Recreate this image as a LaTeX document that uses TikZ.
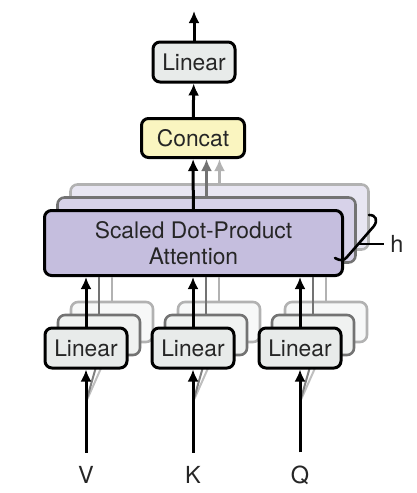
\documentclass[tikz,border=0pt]{standalone}
\usepackage{fontspec}
\setmainfont{TeX Gyre Heros}
\usetikzlibrary{arrows.meta, positioning, calc}

\definecolor{linfill}{RGB}{232,235,234}
\definecolor{linfilltwo}{RGB}{240,242,241}
\definecolor{linfillthree}{RGB}{247,248,248}
\definecolor{catfill}{RGB}{250,245,192}
\definecolor{attfill}{RGB}{197,190,222}
\definecolor{attfilltwo}{RGB}{215,210,233}
\definecolor{attfillthree}{RGB}{232,230,242}

\begin{document}
\begin{tikzpicture}[
    x=1pt, y=-1pt,
    box/.style={rectangle, rounded corners=7pt, draw, line width=3pt, inner sep=0pt, align=center, font=\fontsize{22.8}{26.5}\selectfont, text=black!85},
    lin/.style={box, fill=linfill, minimum width=82pt, minimum height=40pt},
    cat/.style={box, fill=catfill, minimum width=103pt, minimum height=39pt},
    att/.style={box, fill=attfill, minimum width=298pt, minimum height=65pt},
    mid/.style={draw=black!55, line width=2.6pt},
    far/.style={draw=black!30, line width=2.6pt},
    arrow/.style={-{Latex[length=12pt,width=11pt]}, line width=3pt},
    lbl/.style={font=\fontsize{23.5}{27}\selectfont, text=black!85, inner sep=4pt}
]
\useasboundingbox (0,0) rectangle (417,493);

% top of the stack
\node[lin] (lintop) at (194,62) {Linear};
\node[cat] (cat) at (193,138) {Concat};
\coordinate (out) at (194,11);
\draw[arrow] (lintop) -- (out);
\draw[arrow] (cat) -- (lintop);

% attention heads, back to front
\node[att, far, fill=attfillthree] (att3) at (219.5,217) {};
\draw[arrow, black!30] (att3.north) -- (att3.north |- cat.south);
\node[att, mid, fill=attfilltwo] (att2) at (206.5,230) {};
\draw[arrow, black!55] (att2.north) -- (att2.north |- cat.south);
\node[att] (att) at (193.5,243) {Scaled Dot-Product\\Attention};
\draw[arrow] (att) -- (cat);

% h brace
\draw[line width=2.6pt, line cap=round] (369,215) .. controls (376,215) and (378,220) .. (374,226) -- (347,257) .. controls (344,261) and (340,261) .. (335,258);
\coordinate (hb) at (359,244);
\node[lbl, inner sep=6pt] (h) at (397,244) {h};
\draw[line width=2pt] (hb) -- (h.west);

% inputs
\node[lbl, anchor=base] (V) at (86,483) {V};
\node[lbl, anchor=base] (K) at (193,483) {K};
\node[lbl, anchor=base] (Q) at (300,483) {Q};

% V column
\node[lin, far, fill=linfillthree] (lv3) at (112,322) {};
\draw[black!30, line width=2.6pt] (lv3.north) -- (lv3.north |- att.south);
\node[lin, mid, fill=linfilltwo] (lv2) at (99,335) {};
\draw[black!55, line width=2.6pt] (lv2.north) -- (lv2.north |- att.south);
\coordinate (vin) at ($(V.north)!0.65!(86,370)$);
\draw[black!25, line width=2pt] (vin) -- (lv3.south);
\draw[black!50, line width=2pt] (vin) -- (lv2.south);
\node[lin] (lv) at (86,348) {Linear};
\draw[arrow] (lv) -- (lv |- att.south);
\draw[arrow, shorten <=9pt] (V) -- (lv);

% K column
\node[lin, far, fill=linfillthree] (lk3) at (219,322) {};
\draw[black!30, line width=2.6pt] (lk3.north) -- (lk3.north |- att.south);
\node[lin, mid, fill=linfilltwo] (lk2) at (206,335) {};
\draw[black!55, line width=2.6pt] (lk2.north) -- (lk2.north |- att.south);
\coordinate (kin) at ($(K.north)!0.65!(193,370)$);
\draw[black!25, line width=2pt] (kin) -- (lk3.south);
\draw[black!50, line width=2pt] (kin) -- (lk2.south);
\node[lin] (lk) at (193,348) {Linear};
\draw[arrow] (lk) -- (lk |- att.south);
\draw[arrow, shorten <=9pt] (K) -- (lk);

% Q column
\node[lin, far, fill=linfillthree] (lq3) at (326,322) {};
\draw[black!30, line width=2.6pt] (lq3.north) -- (lq3.north |- att.south);
\node[lin, mid, fill=linfilltwo] (lq2) at (313,335) {};
\draw[black!55, line width=2.6pt] (lq2.north) -- (lq2.north |- att.south);
\coordinate (qin) at ($(Q.north)!0.65!(300,370)$);
\draw[black!25, line width=2pt] (qin) -- (lq3.south);
\draw[black!50, line width=2pt] (qin) -- (lq2.south);
\node[lin] (lq) at (300,348) {Linear};
\draw[arrow] (lq) -- (lq |- att.south);
\draw[arrow, shorten <=9pt] (Q) -- (lq);
\end{tikzpicture}
\end{document}
